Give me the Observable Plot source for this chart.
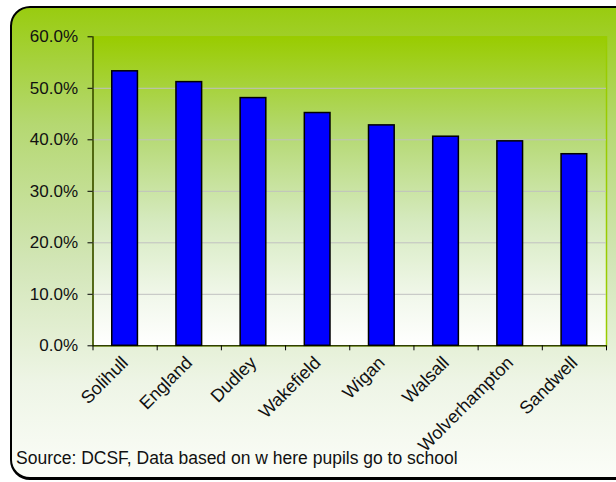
<!DOCTYPE html>
<html>
<head>
<meta charset="utf-8">
<script src="https://cdn.jsdelivr.net/npm/d3@7"></script>
<script src="https://cdn.jsdelivr.net/npm/@observablehq/plot@0.6"></script>
<style>
  html, body { margin: 0; padding: 0; background: #ffffff; }
  #wrap { position: relative; width: 616px; height: 482px; overflow: hidden; font-family: "Liberation Sans", Arial, sans-serif; }
  #frame { position: absolute; left: 10px; top: 6px; width: 640px; height: 469px; border: 2px solid #000; border-bottom-width: 3px; border-radius: 20px;
    background: linear-gradient(to bottom, #99cc10 0%, #b5d872 25%, #d3e6b8 55%, #eef5e6 80%, #fbfdf8 100%); }
  #chart { position: absolute; left: 0; top: 0; }
  #source { position: absolute; left: 16px; top: 450px; font-size: 17.5px; line-height: 17px; color: #111; white-space: pre; }
</style>
</head>
<body>
<div id="wrap">
  <div id="frame"></div>
  <div id="chart"></div>
  <div id="source"></div>
</div>
<script>
const categories = ["Solihull", "England", "Dudley", "Wakefield", "Wigan", "Walsall", "Wolverhampton", "Sandwell"];
const values = [53.3, 51.2, 48.1, 45.2, 42.8, 40.6, 39.7, 37.2];
const yTicks = [0, 10, 20, 30, 40, 50, 60];
const gridTicks = [10, 20, 30, 40, 50];
const sourceText = "Source: DCSF, Data based on w here pupils go to school";

const data = categories.map((c, i) => ({area: c, value: values[i]}));

const W = 616, H = 482;
const mL = 92.5, mR = 10, mT = 36.3, mB = 136.7;
const step = (W - mL - mR) / categories.length;

const chart = Plot.plot({
  width: W,
  height: H,
  marginLeft: mL,
  marginRight: mR,
  marginTop: mT,
  marginBottom: mB,
  style: {background: "transparent", fontFamily: "'Liberation Sans', Arial, sans-serif", fontSize: "16px", color: "#111", overflow: "visible"},
  x: {domain: categories, paddingInner: 0.6, paddingOuter: 0.3, round: false, label: null},
  y: {domain: [0, 60], label: null},
  marks: [
    Plot.frame({fill: "url(#plotGrad)", stroke: "#99cc00", strokeWidth: 1.5}),
    Plot.gridY(gridTicks, {stroke: "#c0c0c0", strokeOpacity: 1, strokeWidth: 1}),
    Plot.barY(data, {x: "area", y: "value", fill: "#0000ff", stroke: "#000", strokeWidth: 1.5}),
    Plot.ruleY([0], {stroke: "#000", strokeWidth: 1}),
    Plot.ruleX([categories[0]], {dx: -step / 2, stroke: "#000", strokeWidth: 1}),
    Plot.axisY(yTicks, {tickSize: 5, tickPadding: 10, tickFormat: d => d.toFixed(1) + "%", fontSize: 17, stroke: "#000"}),
    Plot.axisX(categories, {tickSize: 5, dx: -step / 2, tickFormat: () => "", stroke: "#000"}),
    Plot.axisX([categories[categories.length - 1]], {tickSize: 5, dx: step / 2, tickFormat: () => "", stroke: "#000"}),
    Plot.axisX(categories, {tickSize: 0, tickPadding: 14, tickRotate: -45, fontSize: 18})
  ]
});

const defs = document.createElementNS("http://www.w3.org/2000/svg", "defs");
defs.innerHTML = `<linearGradient id="plotGrad" x1="0" y1="0" x2="0" y2="1">
  <stop offset="0" stop-color="#99cc00"/>
  <stop offset="0.3" stop-color="#b3d86e"/>
  <stop offset="0.6" stop-color="#d6eac0"/>
  <stop offset="0.85" stop-color="#f2f8ec"/>
  <stop offset="1" stop-color="#ffffff"/>
</linearGradient>`;
chart.insertBefore(defs, chart.firstChild);

document.getElementById("chart").appendChild(chart);
document.getElementById("source").textContent = sourceText;
</script>
</body>
</html>
